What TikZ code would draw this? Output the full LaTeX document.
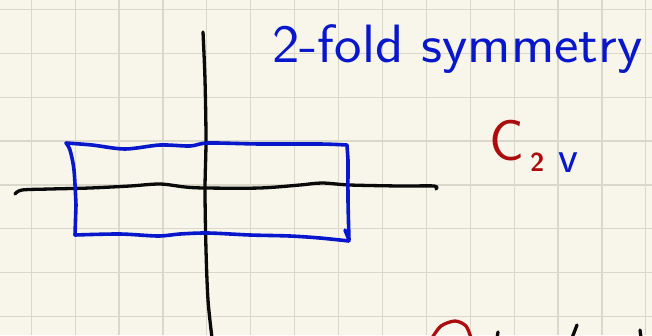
\documentclass[tikz,border=0pt]{standalone}
\usepackage{tikz}
\usetikzlibrary{positioning}

\definecolor{paper}{RGB}{248,246,235}
\definecolor{gridline}{RGB}{218,216,203}
\definecolor{penblue}{RGB}{8,22,204}
\definecolor{penred}{RGB}{172,12,14}
\definecolor{penblack}{RGB}{10,10,10}

\begin{document}
\begin{tikzpicture}[
    x=1pt, y=-1pt,
    gridrule/.style={draw=gridline, line width=1.2pt},
    ink/.style={line width=3.3pt, line cap=round, line join=round},
    axis/.style={ink, draw=penblack},
    outline/.style={ink, draw=penblue, line width=3.6pt},
    note/.style={inner sep=0pt, anchor=base west, font=\sffamily}
]
    % Paper and squared grid
    \useasboundingbox (0,0) rectangle (652,335);
    \fill[paper] (0,0) rectangle (652,335);
    \begin{scope}
    \clip (0,0) rectangle (652,335);
    \foreach \k in {0,...,14}
        \draw[gridrule] ({31.2+43.9*\k},0) -- ({31.2+43.9*\k},335);
    \foreach \k in {0,...,7}
        \draw[gridrule] (0,{9.3+43.9*\k}) -- (652,{9.3+43.9*\k});

    % Axes
    \draw[axis] plot[smooth] coordinates {(203,32) (205,80) (206,140) (205,190) (206,250) (208,300) (212,338)};
    \draw[axis] plot[smooth] coordinates {(15,194) (22,190) (50,189) (90,188) (130,186) (160,184) (185,187) (205,188) (260,188) (300,185) (322,183) (350,185) (400,186) (434,186) (436,189)};

    % Rectangle
    \draw[outline] plot[smooth] coordinates {(66,143) (92,145) (125,149) (160,145) (190,146) (208,143) (260,144) (320,144) (347,145)}
        -- plot[smooth] coordinates {(348,160) (348,200) (349,240)};
    \draw[outline] (345,230) -- (349,240);
    \draw[outline] plot[smooth] coordinates {(349,241) (320,238) (290,236) (250,235) (208,233) (180,234) (158,236) (120,234) (75,235)}
        -- plot[smooth] coordinates {(76,205) (74,170) (70,150) (66,143)};

    % Cut-off strokes at the bottom
    \draw[ink, draw=penred] plot[smooth] coordinates {(432,338) (441,326) (455,321) (466,326) (471,338)};
    \draw[ink, draw=penblack] (498,332) -- (497,338);
    \draw[ink, draw=penblack] (577,325) -- (572,338);
    \draw[ink, draw=penblack] (640,330) -- (641,338);
    \end{scope}

    % Labels
    \node[note, text=penblue, font=\sffamily\fontsize{54}{54}\selectfont, xscale=1.08, transform shape] (title) at (272,62) {2-fold symmetry};
    \node[note, text=penred, font=\sffamily\fontsize{58}{58}\selectfont] (cee) at (489,160) {C};
    \node[note, text=penred, font=\sffamily\bfseries\fontsize{26}{26}\selectfont] (subtwo) at (530,171) {2};
    \node[note, text=penblue, font=\sffamily\fontsize{46}{46}\selectfont] (subvee) at (558,172) {v};
\end{tikzpicture}
\end{document}
